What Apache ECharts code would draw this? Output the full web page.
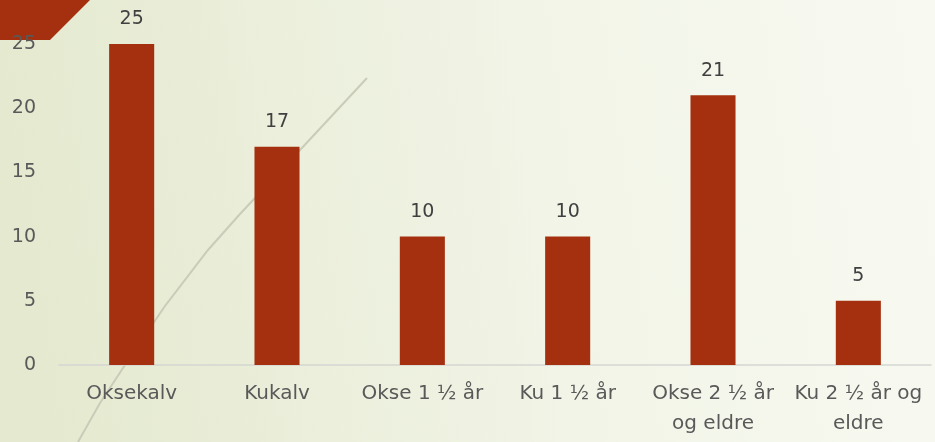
<!DOCTYPE html>
<html>
<head>
<meta charset="utf-8">
<script src="https://cdn.jsdelivr.net/npm/echarts@6/dist/echarts.min.js"></script>
<style>
  html, body { margin: 0; padding: 0; }
  #chart { width: 935px; height: 442px; }
</style>
</head>
<body>
<div id="chart"></div>
<script>
// data
const categories = ['Oksekalv', 'Kukalv', 'Okse 1 ½ år', 'Ku 1 ½ år', 'Okse 2 ½ år og eldre', 'Ku 2 ½ år og eldre'];
const tickLabels = ['Oksekalv', 'Kukalv', 'Okse 1 ½ år', 'Ku 1 ½ år', 'Okse 2 ½ år\nog eldre', 'Ku 2 ½ år og\neldre'];
const counts = [25, 17, 10, 10, 21, 5];
const yTicks = [0, 5, 10, 15, 20, 25];

const chart = echarts.init(document.getElementById('chart'));

const option = {
  backgroundColor: {
    type: 'linear', x: 0, y: 0.3, x2: 1, y2: 0,
    colorStops: [
      {offset: 0, color: '#e4e9cf'},
      {offset: 0.55, color: '#f1f4e6'},
      {offset: 1, color: '#f8faf2'}
    ]
  },
  textStyle: {fontFamily: 'DejaVu Sans'},
  // decorative shapes of the slide theme
  graphic: [
    {
      type: 'polygon', z: -1,
      shape: {points: [[0, 0], [90, 0], [50, 40], [0, 40]]},
      style: {fill: '#a5300f'}
    },
    {
      type: 'polyline', z: -1,
      shape: {points: [[367, 78], [300, 150], [240, 214], [208, 250], [165, 306], [125, 365], [100, 403], [78, 442]]},
      style: {stroke: '#c9ccb8', lineWidth: 2, fill: null}
    }
  ],
  grid: {left: 59, right: 4, top: 44, bottom: 77},
  xAxis: {
    type: 'category',
    data: categories,
    axisTick: {show: false},
    axisLine: {lineStyle: {color: '#d5d6d2', width: 1.5}},
    axisLabel: {
      interval: 0,
      margin: 14,
      fontSize: 20,
      lineHeight: 30,
      color: '#595959',
      formatter: (v, i) => tickLabels[i]
    }
  },
  yAxis: {
    type: 'value',
    min: yTicks[0],
    max: yTicks[yTicks.length - 1],
    interval: 5,
    z: 5,
    splitLine: {show: false},
    axisLine: {show: false},
    axisTick: {show: false},
    axisLabel: {fontSize: 19, color: '#595959', margin: 23}
  },
  series: [{
    name: 'Antall',
    type: 'bar',
    data: counts,
    barWidth: '31%',
    itemStyle: {color: '#a5300f'},
    label: {
      show: true,
      position: 'top',
      distance: 15,
      fontSize: 19,
      color: '#404040'
    }
  }]
};
chart.setOption(option);
</script>
</body>
</html>
